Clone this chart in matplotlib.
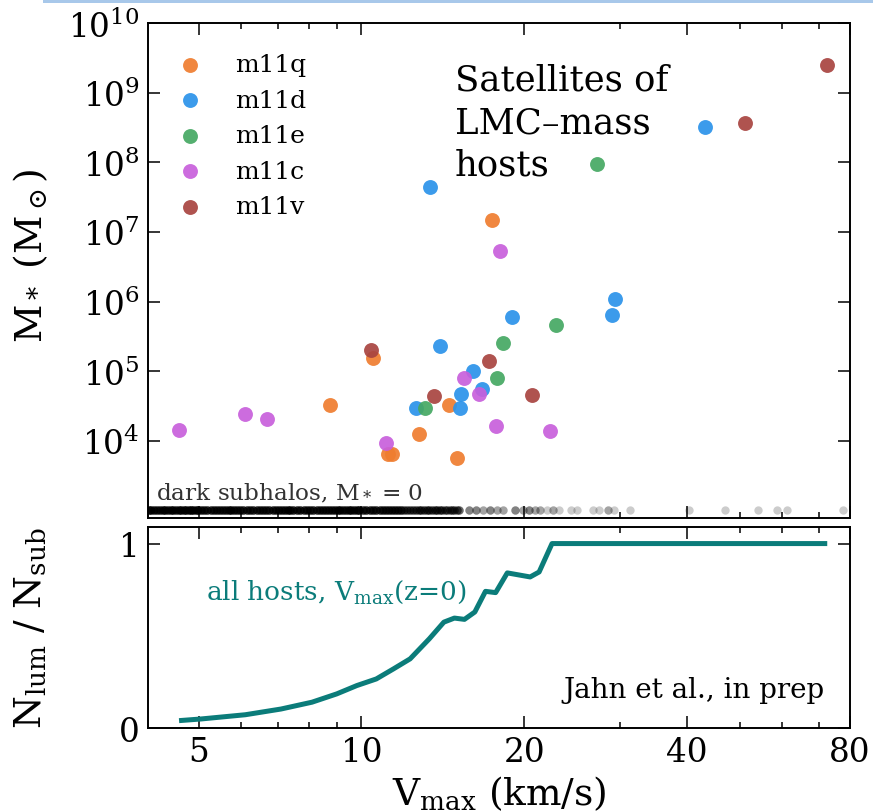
import numpy as np
import matplotlib.pyplot as plt
from matplotlib.ticker import FixedLocator, FixedFormatter, NullLocator, LogFormatterMathtext

plt.rcParams['font.family'] = 'DejaVu Serif'
plt.rcParams['mathtext.fontset'] = 'dejavuserif'

# satellites of each host: Vmax (km/s) and stellar mass (Msun)
hosts = ['m11q', 'm11d', 'm11e', 'm11c', 'm11v']
colors = ['#ef7d2f', '#2b93ea', '#45a863', '#c85fdc', '#a84440']

vmax_m11q = [17.4, 10.5, 14.5, 8.73, 12.75, 11.2, 11.4, 15.0]
mstar_m11q = [1.48e7, 1.55e5, 3.3e4, 3.3e4, 1.26e4, 6.5e3, 6.5e3, 5.6e3]

vmax_m11d = [43.2, 13.4, 29.4, 29.1, 19.0, 13.96, 16.1, 16.7, 15.3, 15.2, 12.6]
mstar_m11d = [3.16e8, 4.47e7, 1.07e6, 6.3e5, 5.9e5, 2.29e5, 1.0e5, 5.5e4, 4.7e4, 3.0e4, 3.0e4]

vmax_m11e = [27.2, 22.9, 18.3, 17.8, 13.1]
mstar_m11e = [9.3e7, 4.57e5, 2.51e5, 8.1e4, 3.0e4]

vmax_m11c = [18.0, 15.5, 16.5, 17.7, 11.1, 4.59, 6.08, 6.68, 22.3]
mstar_m11c = [5.37e6, 7.9e4, 4.7e4, 1.62e4, 9.3e3, 1.45e4, 2.45e4, 2.04e4, 1.38e4]

vmax_m11v = [72.5, 51.1, 10.43, 17.2, 13.6, 20.7]
mstar_m11v = [2.51e9, 3.72e8, 2.04e5, 1.38e5, 4.37e4, 4.5e4]

vmax_all = [vmax_m11q, vmax_m11d, vmax_m11e, vmax_m11c, vmax_m11v]
mstar_all = [mstar_m11q, mstar_m11d, mstar_m11e, mstar_m11c, mstar_m11v]

# dark subhalos (M* = 0), shown at the bottom of the panel: Vmax and how many share it
dark_vmax = [4.04, 4.09, 4.14, 4.19, 4.24, 4.29, 4.34, 4.39, 4.44, 4.49, 4.54, 4.59,
             4.64, 4.69, 4.74, 4.79, 4.84, 4.89, 4.94, 4.99,
             5.05, 5.12, 5.19, 5.26, 5.33, 5.40, 5.47, 5.54, 5.61, 5.68, 5.75, 5.82,
             5.89, 5.96,
             6.04, 6.13, 6.22, 6.31, 6.40, 6.49, 6.58, 6.67, 6.76, 6.85, 6.94, 7.03,
             7.12, 7.21, 7.30, 7.39, 7.48,
             7.60, 7.71, 7.82, 7.93, 8.04, 8.15, 8.26, 8.37, 8.48, 8.59, 8.70, 8.81,
             8.92, 9.03, 9.14, 9.25, 9.36, 9.47, 9.58, 9.69, 9.80, 9.91,
             10.05, 10.2, 10.35, 10.5, 10.65, 10.8, 10.95, 11.1, 11.25, 11.4, 11.55,
             11.7, 11.85, 12.0, 12.15, 12.3, 12.45, 12.6, 12.75, 12.9, 13.05, 13.2,
             13.35, 13.5, 13.65, 13.8, 13.95, 14.1, 14.25, 14.4, 14.55, 14.7, 14.85,
             15.0, 15.15,
             15.8, 16.3, 16.8, 17.3, 17.8, 18.3, 19.2, 19.9, 20.4, 20.9, 21.4, 22.0,
             22.6, 23.2, 24.4, 25.0, 26.8, 27.5, 28.6, 29.3, 31.3, 40.3, 47.0, 54.0,
             58.6, 61.2, 77.7]
dark_count = [7] * 86 + [5] * 14 + [4] * 8 + [3, 3, 2, 3, 2, 2, 3, 2, 3, 2, 2, 1,
                                              2, 1, 1, 1, 1, 1, 2, 1, 1, 1, 1, 1, 1, 1, 1]
dark_mstar = 1e3

# luminous fraction, all hosts
frac_vmax = [4.6, 5.05, 6.1, 7.1, 8.1, 9.0, 9.8, 10.65, 11.45, 12.3, 13.35, 14.2,
             14.85, 15.5, 16.2, 16.95, 17.7, 18.6, 20.5, 21.3, 22.5, 72.6]
frac_lum = [0.04, 0.049, 0.072, 0.103, 0.14, 0.185, 0.23, 0.266, 0.32, 0.375,
            0.484, 0.574, 0.596, 0.589, 0.629, 0.741, 0.734, 0.841, 0.819, 0.846,
            1.0, 1.0]

xticks = [5, 10, 20, 40, 80]
xminor = [6, 7, 8, 9, 30, 50, 60, 70]
yticks = [1e4, 1e5, 1e6, 1e7, 1e8, 1e9, 1e10]

fig = plt.figure(figsize=(8.73, 8.12), dpi=100)
ax = fig.add_axes([0.1695, 0.3608, 0.8042, 0.6096])
ax2 = fig.add_axes([0.1695, 0.1022, 0.8042, 0.2476])

# light blue rule at top of the slide
fig.add_artist(plt.Rectangle((0.049, 0.995), 0.951, 0.005, transform=fig.transFigure,
                             color='#a8c8ea', lw=0))

ax.scatter(np.repeat(dark_vmax, dark_count), np.full(sum(dark_count), dark_mstar),
           s=36, color='k', alpha=0.2, lw=0, zorder=2)
for name, c, v, m in zip(hosts, colors, vmax_all, mstar_all):
    ax.scatter(v, m, s=115, color=c, alpha=0.92, lw=0, label=name, zorder=3)

ax.set_xscale('log')
ax.set_yscale('log')
ax.set_xlim(4.03, 80)
ax.set_ylim(10 ** 2.89, 1e10)
ax.yaxis.set_major_locator(FixedLocator(yticks))
ax.yaxis.set_major_formatter(LogFormatterMathtext())
ax.yaxis.set_minor_locator(NullLocator())
ax.set_ylabel(r'M$_*$ (M$_\odot$)', fontsize=27)

ax.legend(loc='upper left', bbox_to_anchor=(0, 0.984), frameon=False, fontsize=18,
          scatterpoints=1, handlelength=1.6, handletextpad=1.0, labelspacing=0.5,
          borderaxespad=0.5)

ax.text(0.437, 0.92, 'Satellites of\nLMC–mass\nhosts', transform=ax.transAxes,
        fontsize=25.5, ha='left', va='top', linespacing=1.32)
ax.text(0.011, 0.053, r'dark subhalos, M$_*$ = 0', transform=ax.transAxes,
        fontsize=16.7, ha='left', va='center', color='#333333')

ax2.plot(frac_vmax, frac_lum, color='#0b7c7a', lw=3.6, solid_capstyle='butt')
ax2.set_xscale('log')
ax2.set_xlim(4.03, 80)
ax2.set_ylim(0, 1.09)
ax2.set_yticks([0, 1])
ax2.set_yticklabels(['0', '1'])
ax2.set_ylabel(r'N$_{\rm lum}$ / N$_{\rm sub}$', fontsize=27)
ax2.set_xlabel(r'V$_{\rm max}$ (km/s)', fontsize=27)
ax2.text(0.083, 0.68, r'all hosts, V$_{\rm max}$(z=0)', transform=ax2.transAxes,
         fontsize=19, color='#0b7c7a', ha='left', va='center')
ax2.text(0.963, 0.194, 'Jahn et al., in prep', transform=ax2.transAxes,
         fontsize=20, ha='right', va='center')

for a in (ax, ax2):
    a.xaxis.set_major_locator(FixedLocator(xticks))
    a.xaxis.set_minor_locator(FixedLocator(xminor))
    a.xaxis.set_minor_formatter(FixedFormatter([''] * len(xminor)))
    a.tick_params(which='both', direction='in', top=True, right=True, width=1.1)
    a.tick_params(which='major', length=8.5, labelsize=23.5, pad=6)
    a.tick_params(which='minor', length=4.3)
    for s in a.spines.values():
        s.set_linewidth(1.4)

ax.yaxis.set_label_coords(-0.14, 0.533)
ax2.yaxis.set_label_coords(-0.14, 0.5)

ax.xaxis.set_major_formatter(FixedFormatter([''] * len(xticks)))
ax2.xaxis.set_major_formatter(FixedFormatter([str(t) for t in xticks]))

fig.savefig('out.png', dpi=100)
